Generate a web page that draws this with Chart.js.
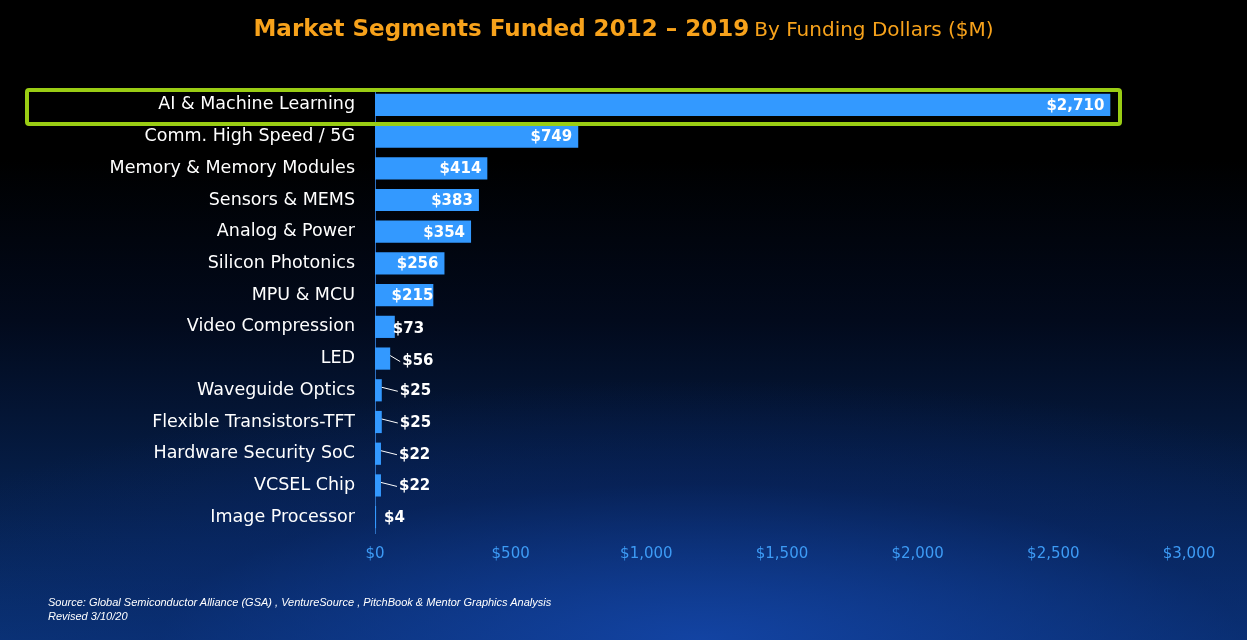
<!DOCTYPE html>
<html><head><meta charset="utf-8">
<script src="https://cdn.jsdelivr.net/npm/chart.js@4"></script>
<style>
html,body{margin:0;padding:0;width:1247px;height:640px;overflow:hidden;}
body{background:
 radial-gradient(ellipse 900px 260px at 700px 640px, rgba(20,70,170,0.85), rgba(10,40,110,0.4) 60%, rgba(0,0,0,0) 100%),
 linear-gradient(180deg,#000 0%,#000 25%,#020a1c 50%,#06214f 80%,#0a3478 100%);}
#wrap{position:absolute;left:0;top:0;width:1247px;height:640px;}
#title{position:absolute;top:15px;left:0;width:1247px;text-align:center;font-family:"DejaVu Sans";color:#f7a21b;}
#title b{font-size:23px;}
#title span{font-size:20px;}
#src{position:absolute;left:48px;top:595px;color:#fff;font:italic 11px "Liberation Sans";line-height:14px;}
#box{position:absolute;left:25px;top:88px;width:1089px;height:30px;border:4px solid #9acd14;border-radius:4px;}
</style></head><body>
<div id="wrap"><canvas id="c" width="1247" height="640"></canvas></div>
<div id="title"><b>Market Segments Funded 2012 – 2019</b> <span>By Funding Dollars ($M)</span></div>
<div id="box"></div>
<div id="src">Source: Global Semiconductor Alliance (GSA) , VentureSource , PitchBook &amp; Mentor Graphics Analysis<br>Revised 3/10/20</div>
<script>
const categories=["AI & Machine Learning","Comm. High Speed / 5G","Memory & Memory Modules","Sensors & MEMS","Analog & Power","Silicon Photonics","MPU & MCU","Video Compression","LED","Waveguide Optics","Flexible Transistors-TFT","Hardware Security SoC","VCSEL Chip","Image Processor"];
const values=[2710,749,414,383,354,256,215,73,56,25,25,22,22,4];
const xTicks=[0,500,1000,1500,2000,2500,3000];

const labelPlugin={id:'lbl',afterDatasetsDraw(chart){
  const ctx=chart.ctx,meta=chart.getDatasetMeta(0);
  ctx.save();ctx.font='bold 15px "DejaVu Sans"';ctx.fillStyle='#fff';ctx.textBaseline='middle';
  meta.data.forEach((b,i)=>{
    const v=values[i],t='$'+v.toLocaleString('en-US');
    if(v>=200){ctx.textAlign='right';ctx.fillText(t,b.x-6+(v===215?6:0),b.y+1);}
    else if(v>=70){ctx.textAlign='left';ctx.fillText(t,b.x-2,b.y+2);}
    else{
      ctx.textAlign='left';
      const lx=b.x+(v>=50?12:18);
      const dy=(v>=50?3:1);
      if(v>=20){ctx.strokeStyle='#fff';ctx.lineWidth=1;ctx.beginPath();ctx.moveTo(b.x,b.y-3);ctx.lineTo(lx-2,b.y+dy);ctx.stroke();}
      ctx.fillText(t,v<20?b.x+8:lx,b.y+dy);
    }
  });
  ctx.restore();
}};

new Chart(document.getElementById('c'),{
  type:'bar',
  data:{labels:categories,datasets:[{data:values,backgroundColor:'#3399ff',barPercentage:0.7,categoryPercentage:1}]},
  options:{indexAxis:'y',responsive:false,animation:false,
    layout:{padding:{top:89,right:58,bottom:73,left:0}},
    plugins:{legend:{display:false},tooltip:{enabled:false}},
    scales:{
      x:{min:0,max:3000,afterBuildTicks(s){s.ticks=xTicks.map(v=>({value:v}));},
        grid:{display:false},border:{display:false},
        ticks:{color:'#3d9bf5',font:{family:'DejaVu Sans',size:15},padding:4,callback:v=>'$'+v.toLocaleString('en-US')}},
      y:{grid:{display:false},border:{color:'#2d6fc0',width:1},
        afterFit(s){s.width=375;},
        ticks:{color:'#fff',font:{family:'DejaVu Sans',size:17.5},padding:12}}
    }},
  plugins:[labelPlugin]
});
</script></body></html>
